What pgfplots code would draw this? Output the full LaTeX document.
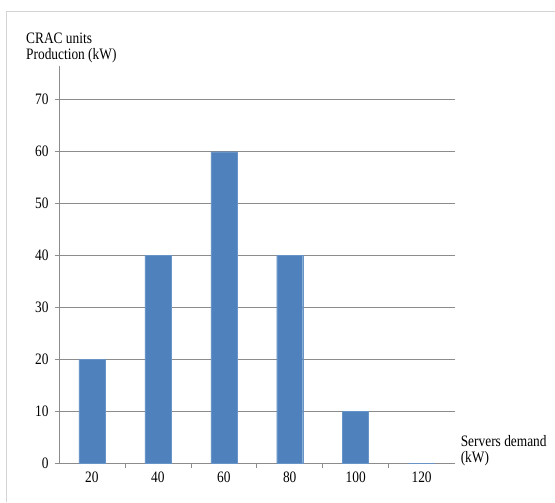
\documentclass[border=0pt]{standalone}
\usepackage{fontspec}
\setmainfont{Liberation Serif}[FakeStretch=0.84]
\usepackage{pgfplots}
\pgfplotsset{compat=1.18}
\definecolor{barblue}{HTML}{4F81BD}
\definecolor{gridgray}{HTML}{8C8C8C}
\definecolor{framegray}{HTML}{D4D4D4}
\begin{document}
\fontsize{16}{15.5}\selectfont
\begin{tikzpicture}
\path (0,0) rectangle (555bp,502bp);
\draw[framegray, line width=1bp] (7bp,0) -- (7bp,490bp) -- (555bp,490bp);
\begin{axis}[
  at={(59bp,38bp)}, anchor=south west,
  scale only axis,
  width=396bp, height=398bp,
  xmin=-0.5, xmax=5.5,
  ymin=0, ymax=76.5,
  axis x line*=bottom, axis y line*=left,
  axis line style={gridgray, line width=0.8bp},
  xtick={0,1,2,3,4,5},
  xticklabels={20,40,60,80,100,120},
  minor xtick={0.5,1.5,2.5,3.5,4.5},
  major x tick style={draw=none},
  minor x tick style={gridgray, line width=0.6bp},
  minor tick length=4bp,
  ytick={0,10,...,70},
  y tick style={gridgray, line width=0.8bp},
  major tick length=4bp,
  tick align=outside,
  ymajorgrids,
  grid style={gridgray, line width=0.8bp},
  /pgf/number format/assume math mode=true,
  tick label style={font=\fontsize{16}{15.5}\selectfont},
  yticklabel style={xshift=-1bp},
  xticklabel style={yshift=1bp},
  ybar, bar width=26bp,
]
\addplot[fill=barblue, draw=barblue!85!white] coordinates {(0,20) (1,40) (2,60) (3,40) (4,10) (5,0)};
\end{axis}
\node[anchor=north west, inner sep=0pt, align=left] at (26bp,469bp) {CRAC units\\Production (kW)};
\node[anchor=north west, inner sep=0pt, align=left] at (461bp,66bp) {Servers demand\\(kW)};
\end{tikzpicture}
\end{document}
